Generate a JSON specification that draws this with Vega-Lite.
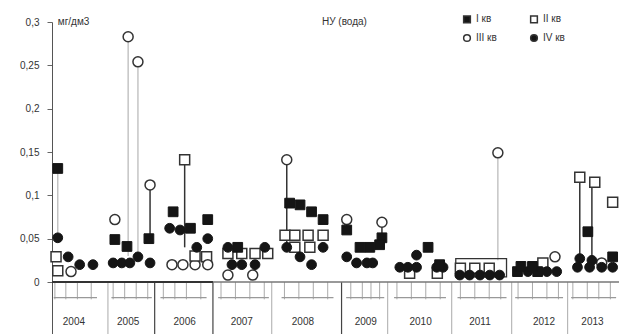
{
  "$schema": "https://vega.github.io/schema/vega-lite/v6.json",
  "width": 567,
  "height": 312,
  "autosize": "none",
  "padding": {"left": 52, "top": 22, "right": 0, "bottom": 0},
  "background": "white",
  "config": {
    "view": {"stroke": null},
    "font": "Liberation Sans",
    "axis": {"labelFont": "Liberation Sans", "labelFontSize": 10, "labelColor": "#333"},
    "legend": {"labelFont": "Liberation Sans"}
  },
  "datasets": {
    "points": [
      {"t": 2003.72, "v": 0.131, "q": "I кв"},
      {"t": 2003.72, "v": 0.051, "q": "IV кв"},
      {"t": 2003.69, "v": 0.029, "q": "II кв"},
      {"t": 2003.90, "v": 0.029, "q": "IV кв"},
      {"t": 2004.10, "v": 0.020, "q": "IV кв"},
      {"t": 2004.33, "v": 0.020, "q": "IV кв"},
      {"t": 2003.72, "v": 0.013, "q": "II кв"},
      {"t": 2003.95, "v": 0.012, "q": "III кв"},
      {"t": 2004.71, "v": 0.072, "q": "III кв"},
      {"t": 2004.94, "v": 0.283, "q": "III кв"},
      {"t": 2005.11, "v": 0.254, "q": "III кв"},
      {"t": 2005.32, "v": 0.112, "q": "III кв"},
      {"t": 2004.71, "v": 0.049, "q": "I кв"},
      {"t": 2004.92, "v": 0.041, "q": "I кв"},
      {"t": 2005.11, "v": 0.029, "q": "IV кв"},
      {"t": 2005.30, "v": 0.050, "q": "I кв"},
      {"t": 2004.68, "v": 0.022, "q": "IV кв"},
      {"t": 2004.83, "v": 0.022, "q": "IV кв"},
      {"t": 2004.97, "v": 0.022, "q": "IV кв"},
      {"t": 2005.32, "v": 0.022, "q": "IV кв"},
      {"t": 2005.72, "v": 0.081, "q": "I кв"},
      {"t": 2005.92, "v": 0.141, "q": "II кв"},
      {"t": 2006.13, "v": 0.040, "q": "IV кв"},
      {"t": 2005.66, "v": 0.062, "q": "IV кв"},
      {"t": 2005.84, "v": 0.060, "q": "IV кв"},
      {"t": 2006.02, "v": 0.062, "q": "I кв"},
      {"t": 2006.32, "v": 0.072, "q": "I кв"},
      {"t": 2006.32, "v": 0.050, "q": "IV кв"},
      {"t": 2006.30, "v": 0.029, "q": "II кв"},
      {"t": 2006.32, "v": 0.020, "q": "III кв"},
      {"t": 2005.70, "v": 0.020, "q": "III кв"},
      {"t": 2005.89, "v": 0.020, "q": "III кв"},
      {"t": 2006.10, "v": 0.020, "q": "III кв"},
      {"t": 2006.10, "v": 0.030, "q": "II кв"},
      {"t": 2006.67, "v": 0.040, "q": "IV кв"},
      {"t": 2006.84, "v": 0.040, "q": "I кв"},
      {"t": 2007.31, "v": 0.040, "q": "IV кв"},
      {"t": 2006.67, "v": 0.033, "q": "II кв"},
      {"t": 2006.91, "v": 0.033, "q": "II кв"},
      {"t": 2007.14, "v": 0.033, "q": "II кв"},
      {"t": 2007.36, "v": 0.033, "q": "II кв"},
      {"t": 2006.74, "v": 0.020, "q": "IV кв"},
      {"t": 2006.91, "v": 0.020, "q": "IV кв"},
      {"t": 2007.14, "v": 0.020, "q": "IV кв"},
      {"t": 2006.67, "v": 0.008, "q": "III кв"},
      {"t": 2007.10, "v": 0.008, "q": "III кв"},
      {"t": 2007.69, "v": 0.141, "q": "III кв"},
      {"t": 2007.74, "v": 0.091, "q": "I кв"},
      {"t": 2007.92, "v": 0.089, "q": "I кв"},
      {"t": 2008.12, "v": 0.081, "q": "I кв"},
      {"t": 2008.32, "v": 0.072, "q": "I кв"},
      {"t": 2007.66, "v": 0.054, "q": "II кв"},
      {"t": 2007.83, "v": 0.054, "q": "II кв"},
      {"t": 2008.06, "v": 0.054, "q": "II кв"},
      {"t": 2008.32, "v": 0.054, "q": "II кв"},
      {"t": 2007.83, "v": 0.040, "q": "II кв"},
      {"t": 2008.09, "v": 0.040, "q": "II кв"},
      {"t": 2007.69, "v": 0.040, "q": "IV кв"},
      {"t": 2007.92, "v": 0.029, "q": "IV кв"},
      {"t": 2008.12, "v": 0.020, "q": "IV кв"},
      {"t": 2008.32, "v": 0.040, "q": "IV кв"},
      {"t": 2008.73, "v": 0.072, "q": "III кв"},
      {"t": 2008.73, "v": 0.060, "q": "I кв"},
      {"t": 2008.73, "v": 0.029, "q": "IV кв"},
      {"t": 2009.34, "v": 0.069, "q": "III кв"},
      {"t": 2009.34, "v": 0.051, "q": "I кв"},
      {"t": 2008.96, "v": 0.040, "q": "I кв"},
      {"t": 2009.13, "v": 0.040, "q": "I кв"},
      {"t": 2009.30, "v": 0.043, "q": "I кв"},
      {"t": 2008.90, "v": 0.022, "q": "IV кв"},
      {"t": 2009.08, "v": 0.022, "q": "IV кв"},
      {"t": 2009.18, "v": 0.022, "q": "IV кв"},
      {"t": 2009.82, "v": 0.010, "q": "II кв"},
      {"t": 2010.30, "v": 0.010, "q": "II кв"},
      {"t": 2009.65, "v": 0.017, "q": "IV кв"},
      {"t": 2009.79, "v": 0.017, "q": "IV кв"},
      {"t": 2009.94, "v": 0.017, "q": "IV кв"},
      {"t": 2010.29, "v": 0.017, "q": "IV кв"},
      {"t": 2010.40, "v": 0.017, "q": "IV кв"},
      {"t": 2010.14, "v": 0.040, "q": "I кв"},
      {"t": 2009.94, "v": 0.031, "q": "IV кв"},
      {"t": 2010.34, "v": 0.020, "q": "I кв"},
      {"t": 2011.35, "v": 0.149, "q": "III кв"},
      {"t": 2010.70, "v": 0.016, "q": "II кв"},
      {"t": 2010.95, "v": 0.016, "q": "II кв"},
      {"t": 2011.20, "v": 0.016, "q": "II кв"},
      {"t": 2010.69, "v": 0.008, "q": "IV кв"},
      {"t": 2010.86, "v": 0.008, "q": "IV кв"},
      {"t": 2011.04, "v": 0.008, "q": "IV кв"},
      {"t": 2011.21, "v": 0.008, "q": "IV кв"},
      {"t": 2011.38, "v": 0.008, "q": "IV кв"},
      {"t": 2012.13, "v": 0.022, "q": "II кв"},
      {"t": 2012.34, "v": 0.029, "q": "III кв"},
      {"t": 2011.69, "v": 0.012, "q": "I кв"},
      {"t": 2011.87, "v": 0.012, "q": "IV кв"},
      {"t": 2012.04, "v": 0.012, "q": "I кв"},
      {"t": 2012.20, "v": 0.012, "q": "IV кв"},
      {"t": 2012.37, "v": 0.012, "q": "IV кв"},
      {"t": 2011.75, "v": 0.018, "q": "I кв"},
      {"t": 2011.95, "v": 0.018, "q": "I кв"},
      {"t": 2012.77, "v": 0.121, "q": "II кв"},
      {"t": 2013.03, "v": 0.115, "q": "II кв"},
      {"t": 2013.34, "v": 0.092, "q": "II кв"},
      {"t": 2013.15, "v": 0.022, "q": "III кв"},
      {"t": 2012.91, "v": 0.058, "q": "I кв"},
      {"t": 2012.77, "v": 0.027, "q": "IV кв"},
      {"t": 2012.98, "v": 0.025, "q": "IV кв"},
      {"t": 2012.73, "v": 0.017, "q": "IV кв"},
      {"t": 2012.94, "v": 0.017, "q": "IV кв"},
      {"t": 2013.15, "v": 0.017, "q": "IV кв"},
      {"t": 2013.34, "v": 0.017, "q": "IV кв"},
      {"t": 2013.34, "v": 0.029, "q": "I кв"}
    ],
    "stemsDark": [
      {"t": 2005.32, "v": 0.112, "v2": 0.05},
      {"t": 2005.92, "v": 0.141, "v2": 0.04},
      {"t": 2007.69, "v": 0.141, "v2": 0.04},
      {"t": 2012.77, "v": 0.121, "v2": 0.027},
      {"t": 2012.98, "v": 0.115, "v2": 0.025},
      {"t": 2009.34, "v": 0.069, "v2": 0.05},
      {"t": 2008.73, "v": 0.072, "v2": 0.06}
    ],
    "stemsLight": [
      {"t": 2003.72, "v": 0.131, "v2": 0.055},
      {"t": 2004.94, "v": 0.283, "v2": 0.03},
      {"t": 2005.11, "v": 0.254, "v2": 0.03},
      {"t": 2011.35, "v": 0.149, "v2": 0.025}
    ],
    "sepDark": [{"t": 2005.40}, {"t": 2006.41}, {"t": 2008.64}],
    "sepLight": [{"t": 2004.59}, {"t": 2007.43}, {"t": 2009.44}, {"t": 2010.55}, {"t": 2011.59}, {"t": 2012.56}],
    "years": [
      {"t": 2004.0, "label": "2004"},
      {"t": 2004.94, "label": "2005"},
      {"t": 2005.92, "label": "2006"},
      {"t": 2006.91, "label": "2007"},
      {"t": 2007.97, "label": "2008"},
      {"t": 2009.06, "label": "2009"},
      {"t": 2010.01, "label": "2010"},
      {"t": 2011.04, "label": "2011"},
      {"t": 2012.15, "label": "2012"},
      {"t": 2012.99, "label": "2013"}
    ],
    "ticks": [
      {"t": 2003.67}, {"t": 2003.86}, {"t": 2004.06}, {"t": 2004.30},
      {"t": 2004.68}, {"t": 2004.88}, {"t": 2005.08}, {"t": 2005.28},
      {"t": 2005.55}, {"t": 2005.75}, {"t": 2005.95}, {"t": 2006.20},
      {"t": 2006.55}, {"t": 2006.80}, {"t": 2007.05}, {"t": 2007.30},
      {"t": 2007.65}, {"t": 2007.90}, {"t": 2008.15}, {"t": 2008.40},
      {"t": 2008.80}, {"t": 2009.00}, {"t": 2009.15}, {"t": 2009.30},
      {"t": 2009.60}, {"t": 2009.85}, {"t": 2010.10}, {"t": 2010.35},
      {"t": 2010.70}, {"t": 2010.95}, {"t": 2011.20}, {"t": 2011.40},
      {"t": 2011.70}, {"t": 2011.95}, {"t": 2012.20}, {"t": 2012.40},
      {"t": 2012.65}, {"t": 2012.90}, {"t": 2013.10}, {"t": 2013.30}
    ],
    "strips": [
      {"t": 2003.65, "t2": 2004.40}, {"t": 2004.65, "t2": 2005.35},
      {"t": 2005.50, "t2": 2006.30}, {"t": 2006.50, "t2": 2007.38},
      {"t": 2007.60, "t2": 2008.50}, {"t": 2008.72, "t2": 2009.38},
      {"t": 2009.55, "t2": 2010.45}, {"t": 2010.65, "t2": 2011.50},
      {"t": 2011.65, "t2": 2012.48}, {"t": 2012.62, "t2": 2013.40}
    ],
    "notes": [
      {"t": 2003.72, "v": 0.3, "label": "мг/дм3"},
      {"t": 2008.3, "v": 0.3, "label": "НУ (вода)"}
    ]
  },
  "layer": [
    {
      "data": {"name": "sepLight"},
      "mark": {"type": "rule", "color": "#aaa", "strokeWidth": 1},
      "encoding": {
        "x": {"field": "t", "type": "quantitative", "scale": {"domain": [2003.62, 2013.45], "nice": false, "zero": false}, "axis": null},
        "y": {"datum": 0, "type": "quantitative"},
        "y2": {"datum": -0.06}
      }
    },
    {
      "data": {"name": "sepDark"},
      "mark": {"type": "rule", "color": "#444", "strokeWidth": 1.2},
      "encoding": {
        "x": {"field": "t", "type": "quantitative"},
        "y": {"datum": 0, "type": "quantitative"},
        "y2": {"datum": -0.06}
      }
    },
    {
      "data": {"name": "ticks"},
      "mark": {"type": "rule", "color": "#aaa", "strokeWidth": 1},
      "encoding": {
        "x": {"field": "t", "type": "quantitative"},
        "y": {"datum": 0, "type": "quantitative"},
        "y2": {"datum": -0.02}
      }
    },
    {
      "data": {"name": "strips"},
      "mark": {"type": "rule", "color": "#999", "strokeWidth": 1.2},
      "encoding": {
        "x": {"field": "t", "type": "quantitative"},
        "x2": {"field": "t2"},
        "y": {"datum": -0.018, "type": "quantitative"}
      }
    },
    {
      "data": {"values": [{"t": 2003.62, "t2": 2013.45}]},
      "mark": {"type": "rule", "color": "#777", "strokeWidth": 1.5},
      "encoding": {
        "x": {"field": "t", "type": "quantitative"},
        "x2": {"field": "t2"},
        "y": {"datum": 0, "type": "quantitative"}
      }
    },
    {
      "data": {"values": [{"t": 2003.62, "t2": 2006.41}]},
      "mark": {"type": "rule", "color": "#333", "strokeWidth": 2},
      "encoding": {
        "x": {"field": "t", "type": "quantitative"},
        "x2": {"field": "t2"},
        "y": {"datum": 0, "type": "quantitative"}
      }
    },
    {
      "data": {"name": "stemsLight"},
      "mark": {"type": "rule", "color": "#bbb", "strokeWidth": 1.3},
      "encoding": {
        "x": {"field": "t", "type": "quantitative"},
        "y": {"field": "v", "type": "quantitative"},
        "y2": {"field": "v2"}
      }
    },
    {
      "data": {"name": "stemsDark"},
      "mark": {"type": "rule", "color": "#333", "strokeWidth": 1.5},
      "encoding": {
        "x": {"field": "t", "type": "quantitative"},
        "y": {"field": "v", "type": "quantitative"},
        "y2": {"field": "v2"}
      }
    },
    {
      "data": {"values": [{"t": 2010.62, "t2": 2011.50, "v": 0.027, "v2": 0.006}]},
      "mark": {"type": "rect", "fill": null, "stroke": "#333", "strokeWidth": 1.3},
      "encoding": {
        "x": {"field": "t", "type": "quantitative"},
        "x2": {"field": "t2"},
        "y": {"field": "v", "type": "quantitative"},
        "y2": {"field": "v2"}
      }
    },
    {
      "data": {"name": "points"},
      "transform": [{"filter": "datum.q === 'II кв' || datum.q === 'III кв'"}],
      "mark": {"type": "point", "filled": false, "stroke": "#333", "strokeWidth": 1.5, "opacity": 1},
      "encoding": {
        "x": {"field": "t", "type": "quantitative"},
        "y": {
          "field": "v", "type": "quantitative",
          "scale": {"domain": [-0.06, 0.3], "nice": false, "zero": false},
          "axis": {
            "values": [0, 0.05, 0.1, 0.15, 0.2, 0.25, 0.3],
            "labelExpr": "replace(format(datum.value, '~g'), '.', ',')",
            "grid": false, "title": null, "tickSize": 5, "tickColor": "#666",
            "domainColor": "#555", "labelPadding": 8
          }
        },
        "shape": {"field": "q", "type": "nominal", "scale": {"domain": ["I кв", "II кв", "III кв", "IV кв"], "range": ["square", "square", "circle", "circle"]},
          "legend": {"orient": "none", "legendX": 410, "legendY": -8, "direction": "horizontal", "columns": 2, "title": null, "symbolSize": 45, "labelFontSize": 10, "labelColor": "#333", "columnPadding": 30, "rowPadding": 5, "labelOffset": 4,
            "encode": {"symbols": {"update": {"stroke": {"value": "#222"}, "strokeWidth": {"value": 1.3}}}}}},
        "fill": {"field": "q", "type": "nominal", "scale": {"domain": ["I кв", "II кв", "III кв", "IV кв"], "range": ["#151515", "white", "white", "#151515"]}},
        "size": {"value": 100}
      }
    },
    {
      "data": {"name": "points"},
      "transform": [{"filter": "datum.q === 'I кв' || datum.q === 'IV кв'"}],
      "mark": {"type": "point", "filled": true, "stroke": "#151515", "strokeWidth": 1, "opacity": 1},
      "encoding": {
        "x": {"field": "t", "type": "quantitative"},
        "y": {"field": "v", "type": "quantitative"},
        "shape": {"field": "q", "type": "nominal", "scale": {"domain": ["I кв", "II кв", "III кв", "IV кв"], "range": ["square", "square", "circle", "circle"]},
          "legend": {"orient": "none", "legendX": 410, "legendY": -8, "direction": "horizontal", "columns": 2, "title": null, "symbolSize": 45, "labelFontSize": 10, "labelColor": "#333", "columnPadding": 30, "rowPadding": 5, "labelOffset": 4,
            "encode": {"symbols": {"update": {"stroke": {"value": "#222"}, "strokeWidth": {"value": 1.3}}}}}},
        "fill": {"field": "q", "type": "nominal", "scale": {"domain": ["I кв", "II кв", "III кв", "IV кв"], "range": ["#151515", "white", "white", "#151515"]}},
        "size": {"value": 95}
      }
    },
    {
      "data": {"name": "years"},
      "mark": {"type": "text", "fontSize": 10, "color": "#333", "baseline": "middle"},
      "encoding": {
        "x": {"field": "t", "type": "quantitative"},
        "y": {"datum": -0.046, "type": "quantitative"},
        "text": {"field": "label"}
      }
    },
    {
      "data": {"name": "notes"},
      "mark": {"type": "text", "fontSize": 10, "color": "#333", "align": "left", "baseline": "middle"},
      "encoding": {
        "x": {"field": "t", "type": "quantitative"},
        "y": {"field": "v", "type": "quantitative"},
        "text": {"field": "label"}
      }
    }
  ]
}
